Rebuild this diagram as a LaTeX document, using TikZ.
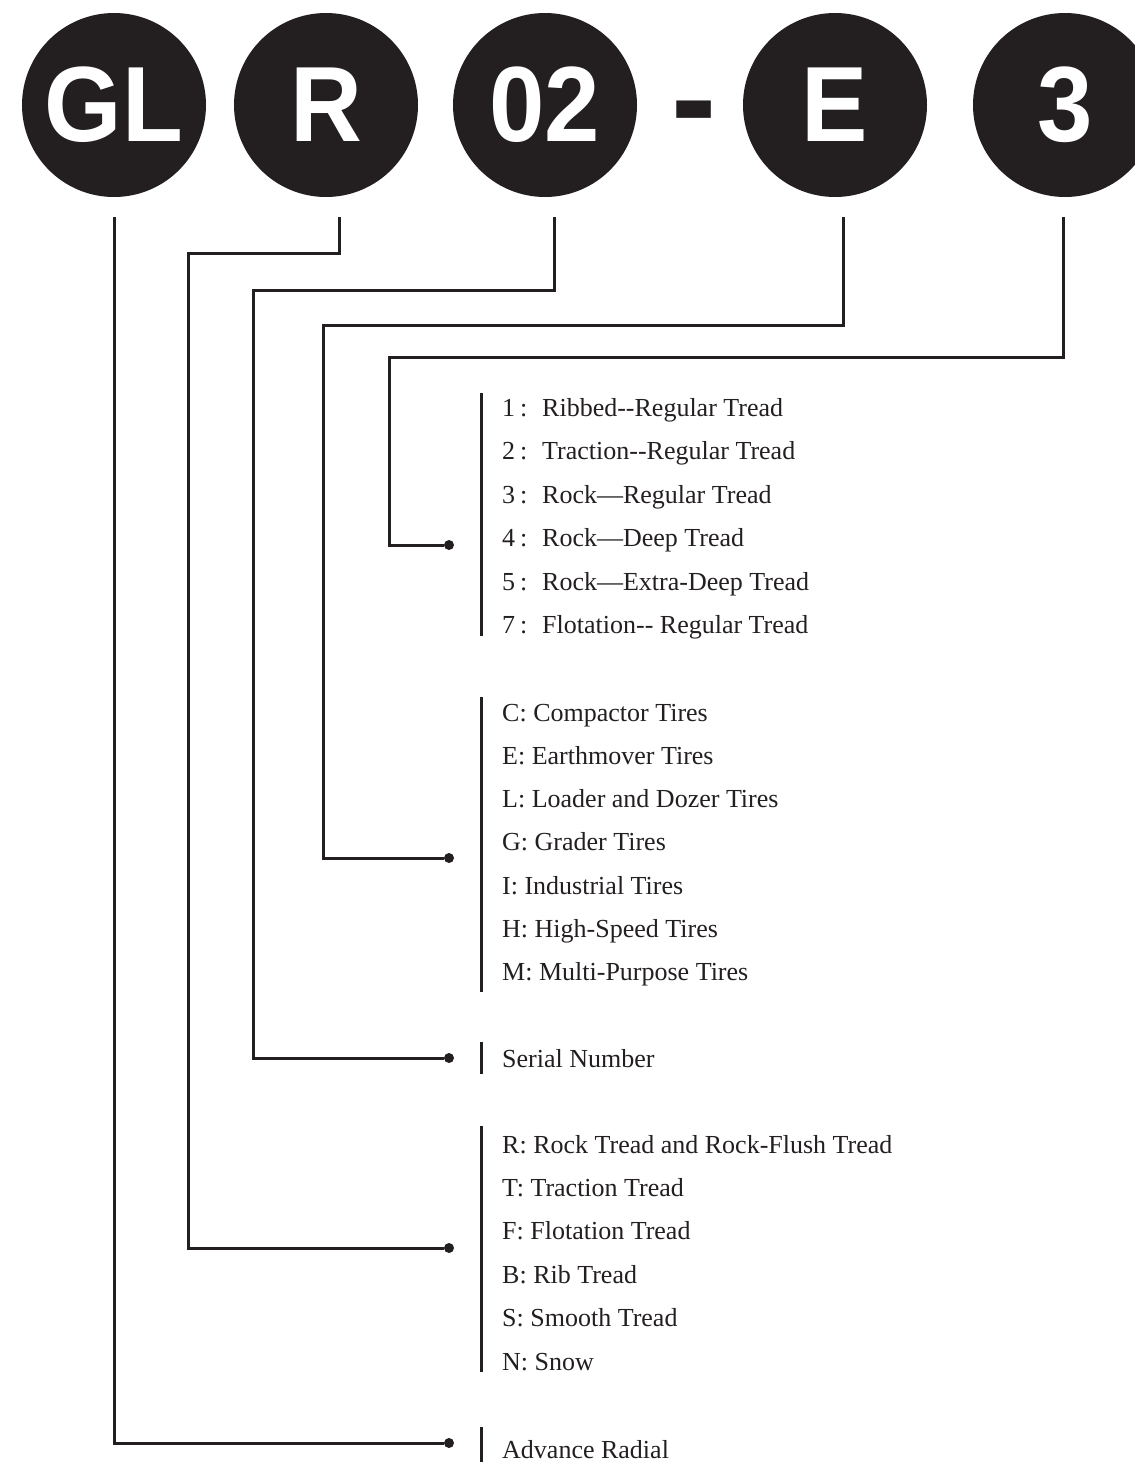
\documentclass[tikz,border=0pt]{standalone}
\usepackage{fontspec}
\setmainfont{Liberation Serif}
\newfontfamily\badgefont{Liberation Sans}[FakeStretch=0.93]
\usetikzlibrary{positioning}
\definecolor{ink}{HTML}{231F20}

\begin{document}
\begin{tikzpicture}[x=1pt,y=-1pt,
  		badge/.style={circle,fill=ink,minimum size=184pt,inner sep=0pt,text=white,
  			font=\badgefont\bfseries\fontsize{107}{107}\selectfont},
  		item/.style={anchor=base west,inner sep=0pt,text=ink,font=\fontsize{26}{30}\selectfont},
  		bar/.style={draw=ink,line width=3pt},
  		link/.style={draw=ink,line width=3pt},
  		knot/.style={circle,fill=ink,minimum size=10pt,inner sep=0pt}]
    		\useasboundingbox (0,0) rectangle (1135,1462);
    		\clip (0,0) rectangle (1135,1462);
    		% Code badges
    		\node[badge] (gl) at (114,105) {GL};
    		\node[badge] (r) at (326,105) {R};
    		\node[badge] (serial) at (545,105) {02};
    		\node[anchor=base,inner sep=0pt,text=ink,font=\badgefont\bfseries\fontsize{146}{146}\selectfont] (dash) at (694,147) {-};
    		\node[badge] (type) at (835,105) {E};
    		\node[badge] (tread) at (1065,105) {3};
    		% Knots
    		\node[knot] (k-tread) at (449,545) {};
    		\node[knot] (k-type) at (449,858) {};
    		\node[knot] (k-serial) at (449,1058) {};
    		\node[knot] (k-r) at (449,1248) {};
    		\node[knot] (k-gl) at (449,1443) {};
    		% Bends
    		\coordinate (b-r) at (188,253);
    		\coordinate (b-serial) at (253,290);
    		\coordinate (b-type) at (323,325);
    		\coordinate (b-tread) at (389,357);
    		% Connectors
    		\draw[link] ([yshift=-20pt]gl.south) |- (k-gl);
    		\draw[link] ([xshift=13pt,yshift=-20pt]r.south) |- (b-r) |- (k-r);
    		\draw[link] ([xshift=9pt,yshift=-20pt]serial.south) |- (b-serial) |- (k-serial);
    		\draw[link] ([xshift=8pt,yshift=-20pt]type.south) |- (b-type) |- (k-type);
    		\draw[link] ([xshift=-2pt,yshift=-20pt]tread.south) |- (b-tread) |- (k-tread);
    		% Tread list
    		\draw[bar] (481,393) -- (481,636);
    		\foreach \n/\t [count=\i from 0] in {1/Ribbed-{}-Regular Tread,2/Traction-{}-Regular Tread,
    				3/Rock—Regular Tread,4/Rock—Deep Tread,5/Rock—Extra-Deep Tread,7/Flotation-{}- Regular Tread}
    			\node[item] (tread-\i) at (502,416+43.5*\i) {\makebox[40pt][l]{\n\hspace{5pt}:}\t};
    		% Type list
    		\draw[bar] (481,697) -- (481,992);
    		\foreach \t [count=\i from 0] in {C: Compactor Tires,E: Earthmover Tires,L: Loader and Dozer Tires,
    				G: Grader Tires,I: Industrial Tires,H: High-Speed Tires,M: Multi-Purpose Tires}
    			\node[item] (type-\i) at (502,721+43.3*\i) {\t};
    		% Serial
    		\draw[bar] (481,1042) -- (481,1074);
    		\node[item] (serial-0) at (502,1067) {Serial Number};
    		% Tread pattern list
    		\draw[bar] (481,1126) -- (481,1372);
    		\foreach \t [count=\i from 0] in {R: Rock Tread and Rock-Flush Tread,T: Traction Tread,F: Flotation Tread,
    				B: Rib Tread,S: Smooth Tread,N: Snow}
    			\node[item] (r-\i) at (502,1153+43.4*\i) {\t};
    		% Radial
    		\draw[bar] (481,1427) -- (481,1462);
    		\node[item] (gl-0) at (502,1458) {Advance Radial};
	\end{tikzpicture}
\end{document}
